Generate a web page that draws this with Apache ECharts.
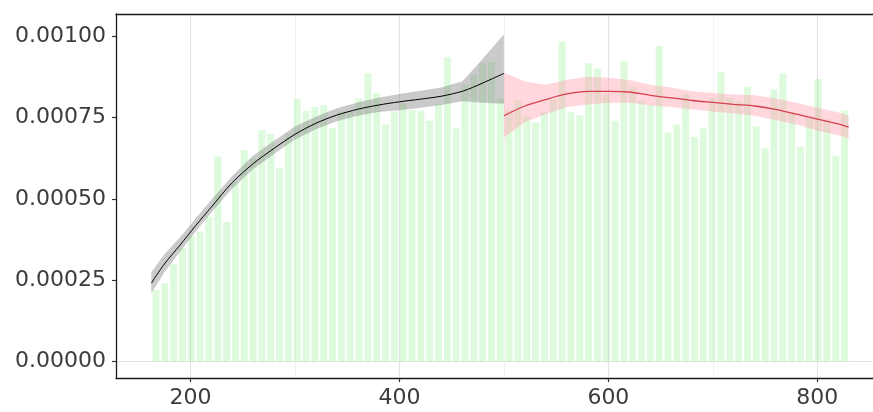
<!DOCTYPE html>
<html>
<head>
<meta charset="utf-8">
<script src="https://cdn.jsdelivr.net/npm/echarts@6/dist/echarts.min.js"></script>
<style>html,body{margin:0;padding:0;background:#fff;}#chart{width:873px;height:412px;}</style>
</head>
<body>
<div id="chart"></div>
<script>
// Histogram (density) bins
const binStart = 162.75;
const binEnd = 830.35;
const density = [
  0.00022, 0.000241, 0.0003, 0.00035, 0.000384, 0.0004, 0.000445, 0.00063, 0.00043, 0.00055,
  0.00065, 0.000625, 0.000711, 0.0007, 0.000594, 0.0007, 0.000808, 0.00077, 0.000783, 0.000788,
  0.000717, 0.000768, 0.00077, 0.000809, 0.000885, 0.000824, 0.000728, 0.000768, 0.000794, 0.000773,
  0.00077, 0.00074, 0.00079, 0.000934, 0.000717, 0.00085, 0.00088, 0.000916, 0.00092, 0.000807,
  0.000773, 0.000803, 0.000753, 0.000735, 0.000766, 0.000806, 0.000983, 0.000766, 0.000757, 0.000916,
  0.0009, 0.00082, 0.000739, 0.000921, 0.000845, 0.000803, 0.000788, 0.00097, 0.000704, 0.000728,
  0.000822, 0.00069, 0.000717, 0.000808, 0.00089, 0.000809, 0.0008, 0.000844, 0.000722, 0.000655,
  0.000836, 0.000885, 0.000766, 0.000661, 0.00075, 0.000868, 0.000745, 0.000632, 0.000771
];

// Smooth fit, first segment (black)
const blackX   = [162.5, 175, 190, 205, 220, 240, 260, 280, 300, 320, 340, 360, 380, 400, 420, 440, 460, 470, 480, 500];
const blackFit = [0.000241, 0.0003, 0.000358, 0.000418, 0.000475, 0.00055, 0.000608, 0.000655, 0.000698, 0.000732,
                  0.000757, 0.000775, 0.000788, 0.000798, 0.000806, 0.000815, 0.00083, 0.000842, 0.000856, 0.000885];
const blackLo  = [0.00021, 0.000275, 0.000338, 0.0004, 0.000458, 0.000532, 0.000592, 0.000638, 0.000682, 0.000714,
                  0.000738, 0.000755, 0.000767, 0.000772, 0.00078, 0.000788, 0.0008, 0.000797, 0.000795, 0.000792];
const blackHi  = [0.000275, 0.00033, 0.000382, 0.00044, 0.000497, 0.00057, 0.000632, 0.000678, 0.000722, 0.000752,
                  0.000778, 0.000796, 0.00081, 0.000822, 0.000832, 0.000842, 0.00086, 0.000895, 0.000931, 0.001005];

// Smooth fit, second segment (red)
const redX   = [500, 520, 540, 560, 580, 600, 620, 640, 660, 680, 700, 720, 740, 760, 780, 800, 820, 830];
const redFit = [0.000755, 0.000785, 0.000805, 0.000822, 0.00083, 0.00083, 0.000828, 0.000818, 0.00081, 0.000802,
                0.000796, 0.00079, 0.000785, 0.000775, 0.00076, 0.000745, 0.00073, 0.00072];
const redLo  = [0.000688, 0.000735, 0.00076, 0.000782, 0.00079, 0.000795, 0.000795, 0.000787, 0.000782, 0.000775,
                0.000768, 0.000762, 0.000755, 0.000742, 0.000728, 0.00071, 0.000695, 0.000685];
const redHi  = [0.000888, 0.00086, 0.00085, 0.000865, 0.000875, 0.000872, 0.000865, 0.00085, 0.000842, 0.00083,
                0.000825, 0.00082, 0.000818, 0.000808, 0.000795, 0.00078, 0.000765, 0.000755];

// Axis ticks
const xTicks = [200, 400, 600, 800];
const xMinor = [300, 500, 700];
const yTicks = [0, 0.00025, 0.0005, 0.00075, 0.001];
const yMinor = [0.000125, 0.000375, 0.000625, 0.000875];

const binWidth = (binEnd - binStart) / density.length;
const barData = density.map((d, i) => [binStart + (i + 0.5) * binWidth, d]);

function ribbonSeries(xs, lo, hi, color) {
  return {
    type: 'custom',
    coordinateSystem: 'cartesian2d',
    data: [[xs[0], lo[0]]],
    silent: true,
    z: 3,
    renderItem: function (params, api) {
      const pts = [];
      for (let i = 0; i < xs.length; i++) pts.push(api.coord([xs[i], hi[i]]));
      for (let i = xs.length - 1; i >= 0; i--) pts.push(api.coord([xs[i], lo[i]]));
      return { type: 'polygon', shape: { points: pts, smooth: 0 }, style: { fill: color } };
    }
  };
}

const majorGrid = { color: '#E4E4E4', width: 1.2, type: 'solid' };
const minorGrid = { color: '#EFEFEF', width: 0.8, type: 'solid' };
function gl(arr, axis, style) {
  return arr.map(v => ({ [axis]: v, lineStyle: style }));
}

const X_MIN = 128.7, X_MAX = 853.3;
const labelStyle = { color: '#3C3C3C', fontSize: 22, fontFamily: 'DejaVu Sans' };

const chart = echarts.init(document.getElementById('chart'), null, { renderer: 'canvas' });
chart.setOption({
  animation: false,
  backgroundColor: '#ffffff',
  grid: { left: 116, right: 0, top: 14, bottom: 34, show: false },
  xAxis: [{
    type: 'value', min: X_MIN, max: X_MAX,
    axisLine: { show: true, onZero: false, lineStyle: { color: '#1a1a1a', width: 1.3 } },
    axisTick: { show: true, length: 4, lineStyle: { color: '#333', width: 1.2 }, customValues: xTicks },
    axisLabel: Object.assign({ customValues: xTicks, margin: 9 }, labelStyle),
    splitLine: { show: false }
  }, {
    type: 'value', min: X_MIN, max: X_MAX, position: 'top',
    axisLine: { show: true, onZero: false, lineStyle: { color: '#1a1a1a', width: 1.3 } },
    axisTick: { show: false }, axisLabel: { show: false }, splitLine: { show: false }
  }],
  yAxis: {
    type: 'value', min: -0.00005, max: 0.0010675,
    axisLine: { show: true, onZero: false, lineStyle: { color: '#1a1a1a', width: 1.3 } },
    axisTick: { show: true, length: 4, lineStyle: { color: '#333', width: 1.2 }, customValues: yTicks },
    axisLabel: Object.assign({ customValues: yTicks, margin: 10, formatter: v => Number(v).toFixed(5) }, labelStyle),
    splitLine: { show: false }
  },
  series: [
    {
      type: 'line', data: [], silent: true, z: 0,
      markLine: {
        z: 0, silent: true, symbol: 'none', label: { show: false }, animation: false,
        data: [].concat(gl(yMinor, 'yAxis', minorGrid), gl(xMinor, 'xAxis', minorGrid),
                        gl(yTicks, 'yAxis', majorGrid), gl(xTicks, 'xAxis', majorGrid))
      }
    },
    {
      type: 'custom', data: barData, z: 2, silent: true,
      renderItem: function (params, api) {
        const x = api.value(0), y = api.value(1);
        const p0 = api.coord([x - binWidth / 2, y]);
        const p1 = api.coord([x + binWidth / 2, 0]);
        return { type: 'rect', shape: { x: p0[0] + 0.9, y: p0[1], width: p1[0] - p0[0] - 1.8, height: p1[1] - p0[1] },
                 style: { fill: 'rgba(144,238,144,0.3)' } };
      }
    },
    ribbonSeries(blackX, blackLo, blackHi, 'rgba(128,128,128,0.42)'),
    ribbonSeries(redX, redLo, redHi, 'rgba(255,160,175,0.42)'),
    {
      type: 'line', data: blackX.map((x, i) => [x, blackFit[i]]), showSymbol: false, smooth: 0.3, z: 4,
      lineStyle: { color: '#000000', width: 1 }, silent: true
    },
    {
      type: 'line', data: redX.map((x, i) => [x, redFit[i]]), showSymbol: false, smooth: 0.3, z: 4,
      lineStyle: { color: '#D6404F', width: 1.3 }, silent: true
    }
  ]
});
</script>
</body>
</html>
